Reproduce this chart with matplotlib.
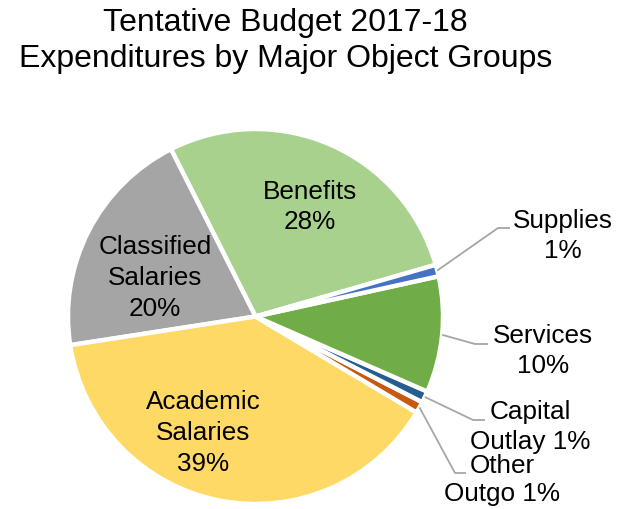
import matplotlib
matplotlib.use("Agg")
import matplotlib.pyplot as plt
import numpy as np

plt.rcParams['font.family'] = ['Liberation Sans', 'DejaVu Sans']

# Budget shares by major object group (percent)
categories = ["Benefits", "Classified\nSalaries", "Academic\nSalaries",
              "Other\nOutgo", "Capital\nOutlay", "Services", "Supplies"]
values = [28, 20, 39, 1, 1, 10, 1]
colors = ["#A9D18E", "#A5A5A5", "#FFD966", "#C55A11", "#255E91", "#70AD47", "#4472C4"]

W, H, DPI = 623, 510, 100
fig = plt.figure(figsize=(W / DPI, H / DPI), dpi=DPI)

# axes spanning the whole figure; 1 data unit = pie radius in pixels
R_PX = 187.5
CX, CY = 255.5, 317.5
ax = fig.add_axes([0, 0, 1, 1])

wedges, _ = ax.pie(values, colors=colors, startangle=16, counterclock=True,
                   radius=1.0, center=(0, 0),
                   wedgeprops=dict(edgecolor='white', linewidth=3.2))

ax.set_xlim(-CX / R_PX, (W - CX) / R_PX)
ax.set_ylim(-(H - CY) / R_PX, CY / R_PX)
ax.set_aspect('equal')
ax.axis('off')


def px(x, y):
    return ((x - CX) / R_PX, (CY - y) / R_PX)


fs = 18.8
# labels inside the big slices
inside = {0: (310, 207), 1: (155, 278), 2: (203, 433)}
for i, (x, y) in inside.items():
    ax.text(*px(x, y), f"{categories[i]}\n{values[i]}%", ha='center', va='center',
            fontsize=fs, linespacing=1.35, color='black')

# outside labels with leader lines: (label center, elbow point, line end)
outside = {
    6: ((563, 236), (498, 229), (510, 229), "Supplies\n{}%"),
    5: ((543, 351), (475, 345), (488, 345), "Services\n{}%"),
    4: ((530, 427), (473, 421), (485, 421), "Capital\nOutlay {}%"),
    3: ((502, 480), (455, 474), (466, 474), "Other\nOutgo {}%"),
}
for i, (lab, elbow, end, fmt) in outside.items():
    w = wedges[i]
    mid = np.deg2rad((w.theta1 + w.theta2) / 2)
    start = (np.cos(mid) * 1.0, np.sin(mid) * 1.0)
    e = px(*elbow)
    f = px(*end)
    ax.plot([start[0], e[0], f[0]], [start[1], e[1], f[1]],
            color='#A6A6A6', lw=1.3, solid_capstyle='butt')
    ax.text(*px(*lab), fmt.format(values[i]), ha='center', va='center',
            fontsize=fs, linespacing=1.3 if i != 3 else 1.2, color='black')

fig.text(285.5 / W, 1 - 41 / H, "Tentative Budget 2017-18\nExpenditures by Major Object Groups",
         ha='center', va='center', fontsize=23, linespacing=1.22, color='black')

fig.savefig("out.png", dpi=DPI, facecolor='white')
